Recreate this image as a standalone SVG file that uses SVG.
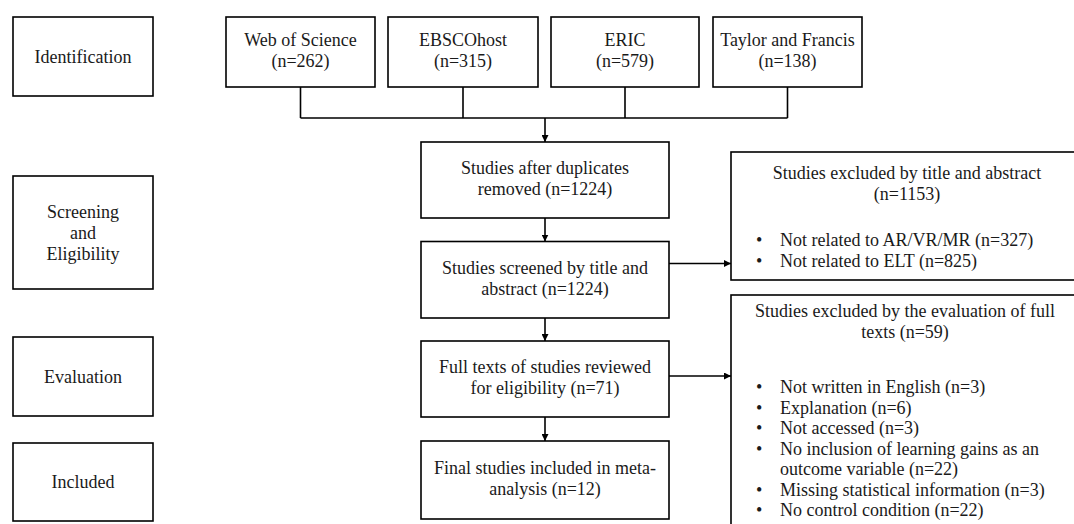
<svg xmlns="http://www.w3.org/2000/svg" width="1074" height="524" viewBox="0 0 1074 524">
<defs>
<marker id="ah" viewBox="0 0 10 10" refX="10" refY="5" markerWidth="7" markerHeight="7" markerUnits="userSpaceOnUse" orient="auto">
<path d="M0,0 L10,5 L0,10 z" fill="#000"/>
</marker>
<style>
rect{fill:#fff;stroke:#000;stroke-width:1.6}
text{font-family:'Liberation Serif','DejaVu Serif','Times New Roman',serif;font-size:18px;fill:#1a1a1a}
.c{text-anchor:middle}
.ln{fill:none;stroke:#000;stroke-width:1.6}
</style>
</defs>
<rect x="0" y="0" width="1074" height="524" style="fill:#fff;stroke:none"/>

<g font-family="'Liberation Serif', 'DejaVu Serif', serif">
<g id="stage-identification"><rect x="13" y="17" width="140" height="79"/><text class="c" x="83" y="62.5">Identification</text></g>
<g id="stage-screening"><rect x="13" y="176" width="140" height="113"/><text class="c" x="83" y="218">Screening</text><text class="c" x="83" y="239">and</text><text class="c" x="83" y="260">Eligibility</text></g>
<g id="stage-evaluation"><rect x="13" y="337" width="140" height="79"/><text class="c" x="83" y="382.5">Evaluation</text></g>
<g id="stage-included"><rect x="13" y="443" width="140" height="78"/><text class="c" x="83" y="488">Included</text></g>

<g id="src-wos"><rect x="226" y="17" width="149" height="70"/><text class="c" x="300.5" y="46">Web of Science</text><text class="c" x="300.5" y="67">(n=262)</text></g>
<g id="src-ebsco"><rect x="388" y="17" width="150" height="70"/><text class="c" x="463" y="46">EBSCOhost</text><text class="c" x="463" y="67">(n=315)</text></g>
<g id="src-eric"><rect x="551" y="17" width="148" height="70"/><text class="c" x="625" y="46">ERIC</text><text class="c" x="625" y="67">(n=579)</text></g>
<g id="src-tf"><rect x="713" y="17" width="149" height="70"/><text class="c" x="787.5" y="46">Taylor and Francis</text><text class="c" x="787.5" y="67">(n=138)</text></g>

<g id="after-dup"><rect x="421" y="142" width="248" height="76"/><text class="c" x="545" y="173.5">Studies after duplicates</text><text class="c" x="545" y="194.5">removed (n=1224)</text></g>
<g id="screened"><rect x="421" y="241.5" width="248" height="76.5"/><text class="c" x="545" y="273.5">Studies screened by title and</text><text class="c" x="545" y="294.5">abstract (n=1224)</text></g>
<g id="fulltext"><rect x="421" y="341" width="248" height="76"/><text class="c" x="545" y="372.5">Full texts of studies reviewed</text><text class="c" x="545" y="393.5">for eligibility (n=71)</text></g>
<g id="final"><rect x="421" y="441" width="248" height="78"/><text class="c" x="545" y="473.5">Final studies included in meta-</text><text class="c" x="545" y="494.5">analysis (n=12)</text></g>

<g id="excl-title"><rect x="731" y="152" width="360" height="128"/>
<text class="c" x="907" y="179">Studies excluded by title and abstract</text>
<text class="c" x="907" y="200">(n=1153)</text>
<text x="756" y="246">•</text><text x="780" y="246">Not related to AR/VR/MR (n=327)</text>
<text x="756" y="267">•</text><text x="780" y="267">Not related to ELT (n=825)</text>
</g>
<g id="excl-full"><rect x="731" y="295" width="360" height="240"/>
<text class="c" x="905" y="317">Studies excluded by the evaluation of full</text>
<text class="c" x="905" y="338">texts (n=59)</text>
<text x="756" y="393">•</text><text x="780" y="393">Not written in English (n=3)</text>
<text x="756" y="413.5">•</text><text x="780" y="413.5">Explanation (n=6)</text>
<text x="756" y="434">•</text><text x="780" y="434">Not accessed (n=3)</text>
<text x="756" y="454.5">•</text><text x="780" y="454.5">No inclusion of learning gains as an</text>
<text x="780" y="475">outcome variable (n=22)</text>
<text x="756" y="495.5">•</text><text x="780" y="495.5">Missing statistical information (n=3)</text>
<text x="756" y="516">•</text><text x="780" y="516">No control condition (n=22)</text>
</g>
</g>

<g id="connectors">
<path class="ln" d="M300.5,87 V118 M463,87 V118 M625,87 V118 M787.5,87 V118 M300.5,118 H787.5"/>
<path class="ln" d="M545,118 V142" marker-end="url(#ah)"/>
<path class="ln" d="M545,218 V241.5" marker-end="url(#ah)"/>
<path class="ln" d="M545,318 V341" marker-end="url(#ah)"/>
<path class="ln" d="M545,417 V441" marker-end="url(#ah)"/>
<path class="ln" d="M669,263.5 H731" marker-end="url(#ah)"/>
<path class="ln" d="M669,376 H731" marker-end="url(#ah)"/>
</g>
</svg>
